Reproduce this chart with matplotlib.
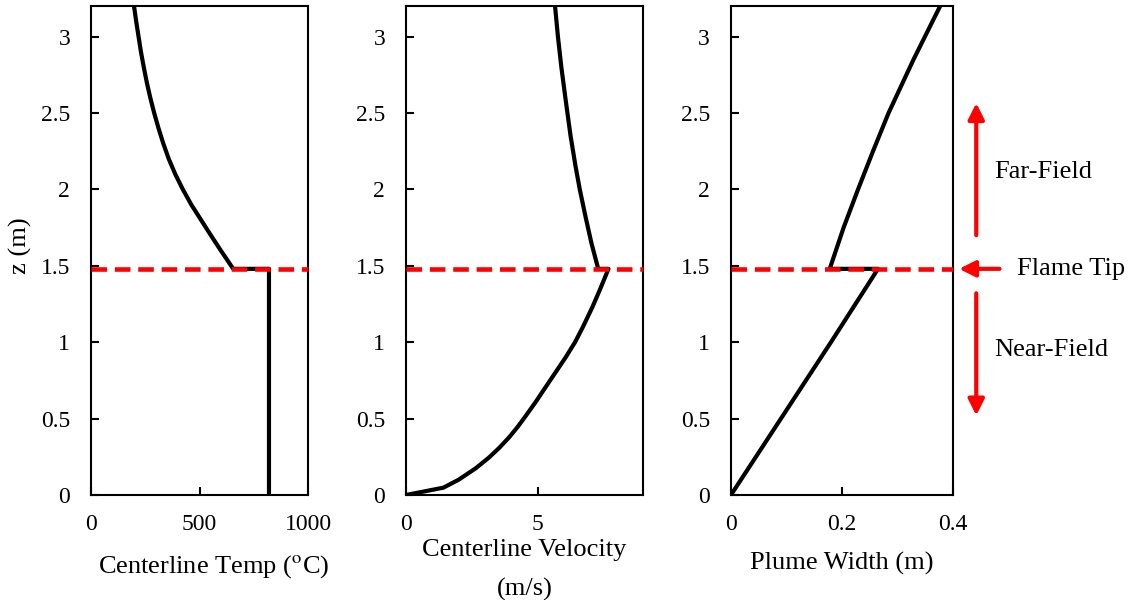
import matplotlib
matplotlib.use("Agg")
import matplotlib.pyplot as plt
from matplotlib.ticker import FuncFormatter

plt.rcParams['font.family'] = ['Liberation Serif', 'DejaVu Serif']
plt.rcParams['mathtext.fontset'] = 'stix'

# flame tip height (m)
z_tip = 1.48

# centerline temperature (C): constant in the flame, decaying above the tip
temp_z = [0.0, 1.48, 1.48, 1.55, 1.6, 1.7, 1.8, 1.9, 2.0, 2.1, 2.2, 2.3,
          2.4, 2.5, 2.6, 2.7, 2.8, 2.9, 3.0, 3.1, 3.2]
temp_T = [820, 820, 655, 622, 598, 552, 507, 462, 423, 388, 358, 333,
          311, 291, 273, 257, 243, 230, 219, 208, 198]

# centerline velocity (m/s)
vel_z = [0.0, 0.048, 0.1, 0.175, 0.245, 0.31, 0.38, 0.45, 0.53, 0.61,
         0.69, 0.8, 0.9, 1.0, 1.1, 1.23, 1.35, 1.48,
         1.48, 1.65, 1.82, 2.0, 2.15, 2.35, 2.59, 2.8, 3.0, 3.2]
vel_u = [0.0, 1.42, 2.0, 2.65, 3.15, 3.55, 3.93, 4.26, 4.6, 4.93,
         5.24, 5.67, 6.06, 6.42, 6.72, 7.08, 7.38, 7.69,
         7.3, 7.04, 6.82, 6.6, 6.44, 6.25, 6.06, 5.9, 5.77, 5.66]

# plume width (m)
width_z = [0.0, 1.01, 1.48, 1.48, 1.75, 2.0, 2.25, 2.5, 2.85, 3.2]
width_b = [0.0, 0.182, 0.265, 0.178, 0.203, 0.229, 0.256, 0.284, 0.329, 0.377]

fig = plt.figure(figsize=(11.35, 6.0), dpi=100)
ax1 = fig.add_axes([0.0802, 0.175, 0.1912, 0.815])
ax2 = fig.add_axes([0.3577, 0.175, 0.2088, 0.815])
ax3 = fig.add_axes([0.6440, 0.175, 0.1956, 0.815])

panels = [
    (ax1, temp_T, temp_z, (0, 1000), [0, 500, 1000]),
    (ax2, vel_u, vel_z, (0, 9), [0, 5]),
    (ax3, width_b, width_z, (0, 0.4), [0, 0.2, 0.4]),
]

fmt = FuncFormatter(lambda v, p: f"{v:g}")

for ax, x, z, xlim, xt in panels:
    ax.plot(x, z, color='black', lw=3.0, solid_joinstyle='round', zorder=3)
    ax.plot(xlim, [z_tip, z_tip], color='red', lw=3.3, dashes=(3.4, 1.7),
            zorder=4, clip_on=False)
    ax.set_xlim(*xlim)
    ax.set_ylim(0, 3.2)
    ax.set_xticks(xt)
    ax.set_yticks([0, 0.5, 1, 1.5, 2, 2.5, 3])
    ax.xaxis.set_major_formatter(fmt)
    ax.yaxis.set_major_formatter(fmt)
    ax.tick_params(direction='in', length=6, width=1.5, labelsize=17,
                   colors='black')
    ax.tick_params(axis='x', pad=14)
    ax.tick_params(axis='y', pad=15)
    for s in ax.spines.values():
        s.set_linewidth(1.5)
        s.set_color('black')

ax1.set_ylabel("z (m)", fontsize=19)
ax1.yaxis.set_label_coords(-0.323, 0.51)
ax1.yaxis.label.set_va('center')

ax1.set_xlabel("Centerline Temp ($^{\\mathrm{o}}$C)", fontsize=19)
ax2.set_xlabel("Centerline Velocity\n(m/s)", fontsize=19, linespacing=1.95)
ax3.set_xlabel("Plume Width (m)", fontsize=19)
for ax, xc, yc in [(ax1, 0.567, -0.146), (ax2, 0.5, -0.154), (ax3, 0.5, -0.139)]:
    ax.xaxis.set_label_coords(xc, yc)
    ax.xaxis.label.set_va('center')

# region markers to the right of the plume width panel
arrow_kw = dict(arrowstyle='-|>', color='red', lw=3.0, mutation_scale=24,
                shrinkA=0, shrinkB=0)
ax3.annotate("", xy=(0.442, 2.565), xytext=(0.442, 1.70),
             arrowprops=arrow_kw, annotation_clip=False)
ax3.annotate("", xy=(0.411, z_tip), xytext=(0.484, z_tip),
             arrowprops=arrow_kw, annotation_clip=False)
ax3.annotate("", xy=(0.442, 0.52), xytext=(0.442, 1.32),
             arrowprops=arrow_kw, annotation_clip=False)
ax3.text(0.475, 2.116, "Far-Field", fontsize=19, va='center', ha='left',
         clip_on=False)
ax3.text(0.516, z_tip, "Flame Tip", fontsize=19, va='center', ha='left',
         clip_on=False)
ax3.text(0.475, 0.95, "Near-Field", fontsize=19, va='center', ha='left',
         clip_on=False)

fig.savefig("out.png", dpi=100)
plt.close(fig)
